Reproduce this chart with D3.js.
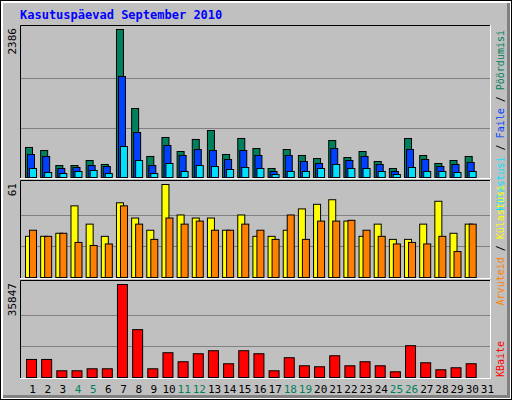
<!DOCTYPE html>
<html><head><meta charset="utf-8">
<script src="https://cdn.jsdelivr.net/npm/d3@7"></script>
<style>body{margin:0;background:#fff}svg{display:block}</style>
</head><body>
<script>
const days = d3.range(1, 32);
const weekend = [4, 5, 11, 12, 18, 19, 25, 26];
const hits = [484,435,193,193,274,210,2386,1112,339,645,419,613,758,371,629,467,145,451,355,306,596,322,419,258,145,629,355,226,274,339];
const files = [371,339,145,161,193,177,1628,725,193,516,355,451,435,290,435,355,97,355,258,226,467,274,339,210,97,451,290,177,210,242];
const pages = [145,81,64,97,113,64,500,274,64,226,97,193,177,129,161,145,48,97,97,145,210,145,145,97,48,161,97,97,81,97];
const visits = [27,27,29,47,35,27,49,39,31,61,41,39,39,31,41,27,27,31,45,48,51,37,27,35,25,25,35,50,29,35];
const sites = [31,27,29,23,21,22,47,35,25,39,35,37,31,31,35,31,25,41,25,37,37,37.5,31,27,22,23,22,27,17,35];
const kbytes = [6960,6960,2590,2590,3360,3360,35847,18440,3360,9550,6070,9160,10320,5300,10320,9160,2590,7620,4520,4140,8390,4520,6070,4520,2200,12260,5680,2980,3750,5300];

const W = 512, H = 400;
const font = "'DejaVu Sans Mono', monospace";
const svg = d3.select("body").append("svg").attr("width", W).attr("height", H);

// frame
svg.append("rect").attr("x", 0).attr("y", 0).attr("width", W).attr("height", H).attr("fill", "#000");
svg.append("rect").attr("x", 1).attr("y", 1).attr("width", W - 2).attr("height", H - 2).attr("fill", "#fff");
svg.append("rect").attr("x", 3).attr("y", 3).attr("width", W - 5).attr("height", H - 5).attr("fill", "#808080");
svg.append("rect").attr("x", 3).attr("y", 3).attr("width", W - 8).attr("height", H - 8).attr("fill", "#c0c0c0");

svg.append("text").attr("x", 20).attr("y", 19).attr("font-family", font).attr("font-weight", "bold")
	.attr("font-size", 12).attr("fill", "#0000ff").text("Kasutuspäevad September 2010");

const x = d3.scaleBand().domain(days).range([20, 490]).paddingInner(0).paddingOuter(0);
const sw = x.bandwidth();

function panel(top, bottom, max, series, legend, fromTop) {
	const y = d3.scaleLinear().domain([0, max]).range([bottom, top + 4]);
	const g = svg.append("g");
	g.append("rect").attr("x", 20).attr("y", top).attr("width", 471).attr("height", bottom - top + 1)
		.attr("fill", "#c0c0c0");
	g.selectAll("line.grid").data([max / 3, max * 2 / 3]).join("line")
		.attr("x1", 21).attr("x2", 490).attr("y1", (d) => Math.round(y(d)) + 0.5).attr("y2", (d) => Math.round(y(d)) + 0.5)
		.attr("stroke", "#808080");
	series.forEach((s) => {
		g.selectAll(null).data(s.values).join("rect")
			.attr("x", (d, i) => x(days[i]) + s.off + 0.5)
			.attr("y", (d) => y(d) + 0.5)
			.attr("width", s.w)
			.attr("height", (d) => bottom - y(d))
			.attr("fill", s.color).attr("stroke", "#000");
	});
	// bevel border
	g.append("path").attr("d", `M20.5,${bottom + 1}V${top + 0.5}H490`).attr("fill", "none").attr("stroke", "#000");
	g.append("path").attr("d", `M20,${bottom + 1.5}H490.5V${top}`).attr("fill", "none").attr("stroke", "#fff");
	g.append("text").attr("transform", `translate(16,${top + 3}) rotate(-90)`).attr("text-anchor", "end")
		.attr("font-family", font).attr("font-size", 11).attr("fill", "#000").text(max);
	const t = g.append("text")
		.attr("transform", fromTop ? `translate(504,${top + 5}) rotate(-90)` : `translate(504,${bottom}) rotate(-90)`)
		.attr("text-anchor", fromTop ? "end" : "start")
		.attr("font-family", font).attr("font-size", 10);
	legend.forEach((l, i) => {
		if (i > 0) t.append("tspan").attr("fill", "#000").text(" / ");
		t.append("tspan").attr("fill", l.color).text(l.text);
	});
}

panel(25, 177, 2386, [
	{ values: hits, color: "#00805c", off: 5, w: 7 },
	{ values: files, color: "#0040ff", off: 7, w: 7 },
	{ values: pages, color: "#00e0ff", off: 9, w: 7 }
], [{ text: "Külastusi", color: "#00e0ff" }, { text: "Faile", color: "#0040ff" }, { text: "Pöördumisi", color: "#00805c" }], true);

panel(180, 277, 61, [
	{ values: visits, color: "#ffff00", off: 5, w: 7 },
	{ values: sites, color: "#ff8000", off: 9, w: 7 }
], [{ text: "Arvuteid", color: "#ff8000" }, { text: "Külastusi", color: "#ffff00" }], true);

panel(280, 377, 35847, [
	{ values: kbytes, color: "#ff0000", off: 6, w: 10 }
], [{ text: "KBaite", color: "#ff0000" }], false);

svg.selectAll("text.day").data(days).join("text")
	.attr("x", (d) => x(d) + sw / 2 + 5).attr("y", 393).attr("text-anchor", "middle")
	.attr("font-family", font).attr("font-size", 11)
	.attr("fill", (d) => weekend.includes(d) ? "#00805c" : "#000").text((d) => d);
</script>
</body></html>
